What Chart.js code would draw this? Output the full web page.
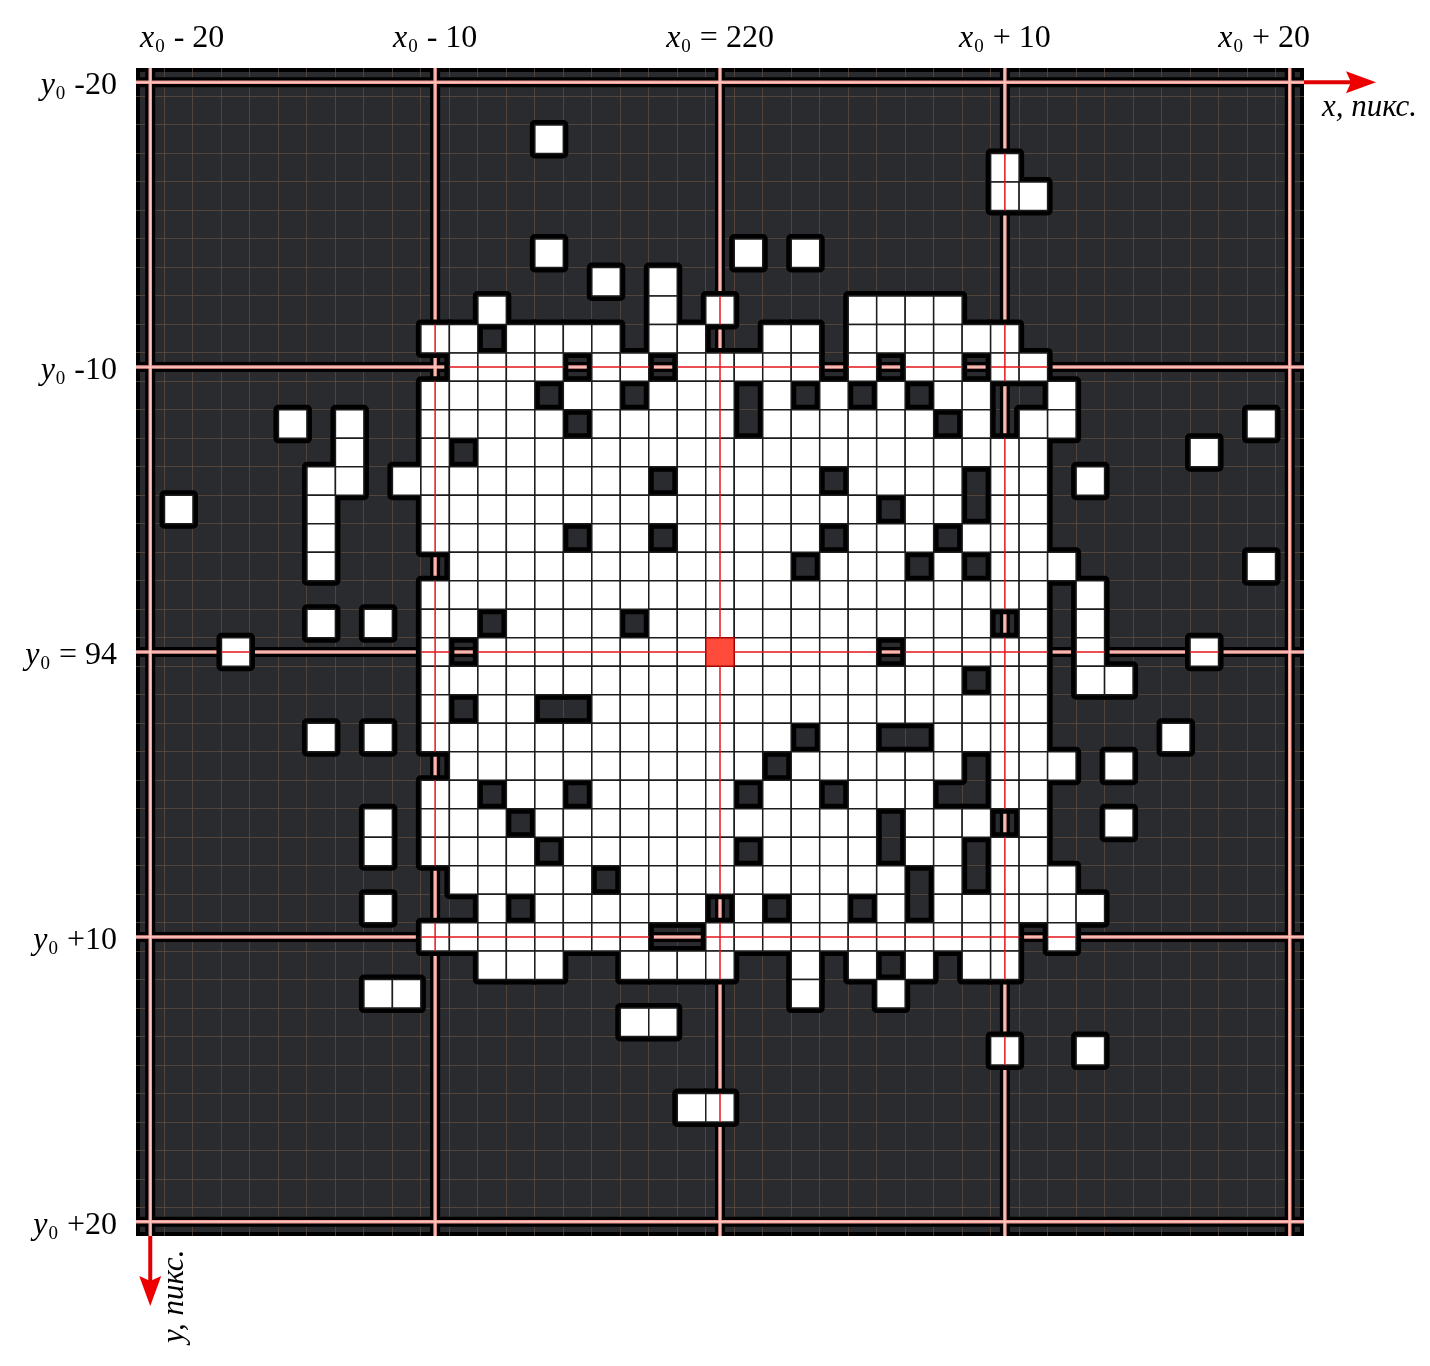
<!DOCTYPE html>
<html lang="ru">
<head>
<meta charset="utf-8">
<title>Окрестность пикселя (x0, y0)</title>
<script src="https://cdn.jsdelivr.net/npm/chart.js@4.4.1/dist/chart.umd.min.js"></script>
<style>
  html, body { margin: 0; padding: 0; background: #fff; }
  #wrap { width: 1430px; height: 1366px; }
</style>
</head>
<body>
<div id="wrap"><canvas id="mask" width="1430" height="1366"></canvas></div>
<script>
// Window of +-20 px around the pixel (x0, y0) = (220, 94)
const RADIUS = 20;

const xTicks = [-20, -10, 0, 10, 20];
const yTicks = [-20, -10, 0, 10, 20];
const xTickText = [' - 20', ' - 10', ' = 220', ' + 10', ' + 20'];
const yTickText = [' -20', ' -10', ' = 94', ' +10', ' +20'];

// rows (y offset) and the x offsets of the white pixels in each row
const rowOffsets = [-18, -17, -16, -14, -13, -12, -11, -10, -9, -8, -7, -6, -5, -4, -3, -2, -1,
                    0, 1, 2, 3, 4, 5, 6, 7, 8, 9, 10, 11, 12, 13, 14, 16];
const whiteCols = [
  [-6],
  [10],
  [10, 11],
  [-6, 1, 3],
  [-4, -2],
  [-8, -2, 0, 5, 6, 7, 8],
  [-10, -9, -7, -6, -5, -4, -2, -1, 2, 3, 5, 6, 7, 8, 9, 10],
  [-9, -8, -7, -6, -4, -3, -1, 0, 1, 2, 3, 5, 7, 8, 10, 11],
  [-10, -9, -8, -7, -5, -4, -2, -1, 0, 2, 4, 6, 8, 9, 12],
  [-15, -13, -10, -9, -8, -7, -6, -4, -3, -2, -1, 0, 2, 3, 4, 5, 6, 7, 9, 11, 12, 19],
  [-13, -10, -8, -7, -6, -5, -4, -3, -2, -1, 0, 1, 2, 3, 4, 5, 6, 7, 8, 9, 10, 11, 17],
  [-14, -13, -11, -10, -9, -8, -7, -6, -5, -4, -3, -1, 0, 1, 2, 3, 5, 6, 7, 8, 10, 11, 13],
  [-19, -14, -10, -9, -8, -7, -6, -5, -4, -3, -2, -1, 0, 1, 2, 3, 4, 5, 7, 8, 10, 11],
  [-14, -10, -9, -8, -7, -6, -4, -3, -1, 0, 1, 2, 3, 5, 6, 7, 9, 10, 11],
  [-14, -9, -8, -7, -6, -5, -4, -3, -2, -1, 0, 1, 2, 4, 5, 6, 8, 10, 11, 12, 19],
  [-10, -9, -8, -7, -6, -5, -4, -3, -2, -1, 0, 1, 2, 3, 4, 5, 6, 7, 8, 9, 10, 11, 13],
  [-14, -12, -10, -9, -7, -6, -5, -4, -2, -1, 0, 1, 2, 3, 4, 5, 6, 7, 8, 9, 11, 13],
  [-17, -10, -8, -7, -6, -5, -4, -3, -2, -1, 1, 2, 3, 4, 5, 7, 8, 9, 10, 11, 13, 17],
  [-10, -9, -8, -7, -6, -5, -4, -3, -2, -1, 0, 1, 2, 3, 4, 5, 6, 7, 8, 10, 11, 13, 14],
  [-10, -8, -7, -4, -3, -2, -1, 0, 1, 2, 3, 4, 5, 6, 7, 8, 9, 10, 11],
  [-14, -12, -10, -9, -8, -7, -6, -5, -4, -3, -2, -1, 0, 1, 2, 4, 5, 8, 9, 10, 11, 16],
  [-9, -8, -7, -6, -5, -4, -3, -2, -1, 0, 1, 3, 4, 5, 6, 7, 8, 10, 11, 12, 14],
  [-10, -9, -7, -6, -4, -3, -2, -1, 0, 2, 3, 5, 6, 7, 10, 11],
  [-12, -10, -9, -8, -6, -5, -4, -3, -2, -1, 0, 1, 2, 3, 4, 5, 7, 8, 9, 11, 14],
  [-12, -10, -9, -8, -7, -5, -4, -3, -2, -1, 0, 2, 3, 4, 5, 7, 8, 10, 11],
  [-9, -8, -7, -6, -5, -3, -2, -1, 0, 1, 2, 3, 4, 5, 6, 8, 10, 11, 12],
  [-12, -8, -6, -5, -4, -3, -2, -1, 1, 3, 4, 6, 8, 9, 10, 11, 12, 13],
  [-10, -9, -8, -7, -6, -5, -4, -3, 0, 1, 2, 3, 4, 5, 6, 7, 8, 9, 10, 12],
  [-8, -7, -6, -3, -2, -1, 0, 3, 5, 7, 9, 10],
  [-12, -11, 3, 6],
  [-3, -2],
  [10, 13],
  [-1, 0],
];
const centre = [0, 0];

const SERIF = '"Liberation Serif", "Times New Roman", serif';

const whitePoints = [];
rowOffsets.forEach((dy, r) => whiteCols[r].forEach(dx => whitePoints.push({ x: dx, y: dy })));
const centrePoint = [{ x: centre[0], y: centre[1] }];

const cellEdges = [];
for (let v = -RADIUS + 0.5; v <= RADIUS - 0.5; v++) cellEdges.push(v);

function cellPx(chart) {
    const s = chart.scales.x;
    return Math.abs(s.getPixelForValue(1) - s.getPixelForValue(0));
}
// 'rect' point side = radius * sqrt(2)
const cellRadius = ctx => cellPx(ctx.chart) / Math.SQRT2;

function labelWidth(ctx, letter, rest) {
    ctx.font = 'italic 32px ' + SERIF;
    let w = ctx.measureText(letter).width;
    ctx.font = '19px ' + SERIF;
    w += ctx.measureText('0').width + 2;
    ctx.font = '32px ' + SERIF;
    return w + ctx.measureText(rest).width;
}

function drawLabel(ctx, letter, rest, left, baseline) {
    ctx.fillStyle = '#000';
    ctx.textAlign = 'left';
    ctx.textBaseline = 'alphabetic';
    ctx.font = 'italic 32px ' + SERIF;
    ctx.fillText(letter, left, baseline);
    let x = left + ctx.measureText(letter).width;
    ctx.font = '19px ' + SERIF;
    ctx.fillText('0', x + 1, baseline + 5);
    x += ctx.measureText('0').width + 2;
    ctx.font = '32px ' + SERIF;
    ctx.fillText(rest, x, baseline);
}

function arrow(ctx, x1, y1, x2, y2) {
    const a = Math.atan2(y2 - y1, x2 - x1);
    const c = Math.cos(a), s = Math.sin(a);
    const head = 30, half = 11, notch = 5;
    ctx.strokeStyle = '#e00000';
    ctx.fillStyle = '#ee0000';
    ctx.lineWidth = 4;
    ctx.beginPath();
    ctx.moveTo(x1, y1);
    ctx.lineTo(x2 - (head - notch) * c, y2 - (head - notch) * s);
    ctx.stroke();
    ctx.beginPath();
    ctx.moveTo(x2, y2);
    ctx.lineTo(x2 - head * c - half * s, y2 - head * s + half * c);
    ctx.lineTo(x2 - (head - notch) * c, y2 - (head - notch) * s);
    ctx.lineTo(x2 - head * c + half * s, y2 - head * s - half * c);
    ctx.closePath();
    ctx.fill();
}

const guidePlugin = {
    id: 'guides',
    beforeDraw(chart) {
        const { ctx, chartArea: a } = chart;
        ctx.save();
        ctx.fillStyle = '#000';
        ctx.fillRect(a.left, a.top, a.width, a.height);
        ctx.fillStyle = '#2a2b2f';
        ctx.fillRect(a.left + 4, a.top + 4, a.width - 8, a.height - 8);
        ctx.restore();
    },
    beforeDatasetsDraw(chart) {
        const { ctx, chartArea: a, scales } = chart;
        const xs = xTicks.map(v => scales.x.getPixelForValue(v));
        const ys = yTicks.map(v => scales.y.getPixelForValue(v));
        const pass = (width, color) => {
            ctx.lineWidth = width;
            ctx.strokeStyle = color;
            ctx.beginPath();
            xs.forEach(px => { ctx.moveTo(px, a.top); ctx.lineTo(px, a.bottom); });
            ys.forEach(py => { ctx.moveTo(a.left, py); ctx.lineTo(a.right, py); });
            ctx.stroke();
        };
        ctx.save();
        pass(10, '#000');
        pass(3.5, '#f19a93');
        pass(1, '#ffd6d2');
        ctx.restore();
    },
    beforeDatasetDraw(chart, args) {
        if (args.index === 0) chart.ctx.lineJoin = 'round';
    },
    afterDatasetDraw(chart, args) {
        if (args.index === 0) chart.ctx.lineJoin = 'miter';
    },
    afterDatasetsDraw(chart) {
        // thin red guide lines over the white pixels
        const { ctx, chartArea: a, scales } = chart;
        const half = cellPx(chart) / 2;
        ctx.save();
        ctx.beginPath();
        whitePoints.forEach(p => {
            const cx = scales.x.getPixelForValue(p.x), cy = scales.y.getPixelForValue(p.y);
            ctx.rect(cx - half, cy - half, half * 2, half * 2);
        });
        ctx.clip();
        ctx.strokeStyle = '#e3161b';
        ctx.lineWidth = 1.5;
        ctx.beginPath();
        xTicks.forEach(v => { const px = scales.x.getPixelForValue(v); ctx.moveTo(px, a.top); ctx.lineTo(px, a.bottom); });
        yTicks.forEach(v => { const py = scales.y.getPixelForValue(v); ctx.moveTo(a.left, py); ctx.lineTo(a.right, py); });
        ctx.stroke();
        ctx.restore();
    },
    afterDraw(chart) {
        const { ctx, chartArea: a, scales } = chart;
        ctx.save();

        // top labels, kept inside the frame at both ends
        xTicks.forEach((v, i) => {
            const w = labelWidth(ctx, 'x', xTickText[i]);
            let left = scales.x.getPixelForValue(v) - w / 2;
            left = Math.max(left, a.left + 4);
            left = Math.min(left, a.right + 6 - w);
            drawLabel(ctx, 'x', xTickText[i], left, a.top - 21);
        });
        // left labels, right aligned
        yTicks.forEach((v, i) => {
            const w = labelWidth(ctx, 'y', yTickText[i]);
            drawLabel(ctx, 'y', yTickText[i], a.left - 19 - w, scales.y.getPixelForValue(v) + 12);
        });

        // axis arrows
        const yTop = scales.y.getPixelForValue(yTicks[0]);
        const xLeft = scales.x.getPixelForValue(xTicks[0]);
        arrow(ctx, a.right, yTop, a.right + 72, yTop);
        arrow(ctx, xLeft, a.bottom, xLeft, a.bottom + 70);

        // axis titles
        ctx.fillStyle = '#000';
        ctx.font = 'italic 31px ' + SERIF;
        ctx.textAlign = 'left';
        ctx.textBaseline = 'alphabetic';
        ctx.fillText('x, пикс.', a.right + 18, yTop + 34);
        ctx.translate(xLeft + 33, a.bottom + 107);
        ctx.rotate(-Math.PI / 2);
        ctx.fillText('y, пикс.', 0, 0);
        ctx.restore();
    },
};

new Chart(document.getElementById('mask'), {
    type: 'scatter',
    data: {
        datasets: [
            {
                label: 'outline',
                data: whitePoints.concat(centrePoint),
                pointStyle: 'rect',
                pointRadius: cellRadius,
                backgroundColor: '#000',
                borderColor: '#000',
                borderWidth: 10,
                order: 3,
            },
            {
                label: 'white pixels',
                data: whitePoints,
                pointStyle: 'rect',
                pointRadius: cellRadius,
                backgroundColor: '#ffffff',
                borderColor: '#1c1c1c',
                borderWidth: 1.5,
                order: 2,
            },
            {
                label: '(x0, y0)',
                data: centrePoint,
                pointStyle: 'rect',
                pointRadius: cellRadius,
                backgroundColor: '#ff4b3b',
                borderColor: '#a30000',
                borderWidth: 1.5,
                order: 1,
            },
        ],
    },
    options: {
        responsive: false,
        animation: false,
        events: [],
        layout: { padding: { left: 136, top: 68, right: 126, bottom: 130 } },
        plugins: {
            legend: { display: false },
            tooltip: { enabled: false },
        },
        scales: {
            x: {
                type: 'linear',
                position: 'bottom',
                min: -RADIUS - 0.5,
                max: RADIUS + 0.5,
                afterBuildTicks: s => { s.ticks = cellEdges.map(v => ({ value: v })); },
                afterFit: s => { s.height = 0; },
                ticks: { display: false },
                border: { display: false },
                grid: { color: 'rgba(96, 76, 64, 0.75)', lineWidth: 1, drawTicks: false },
            },
            y: {
                type: 'linear',
                position: 'left',
                reverse: true,
                min: -RADIUS - 0.5,
                max: RADIUS + 0.5,
                afterBuildTicks: s => { s.ticks = cellEdges.map(v => ({ value: v })); },
                afterFit: s => { s.width = 0; },
                ticks: { display: false },
                border: { display: false },
                grid: { color: 'rgba(96, 76, 64, 0.75)', lineWidth: 1, drawTicks: false },
            },
        },
    },
    plugins: [guidePlugin],
});
</script>
</body>
</html>
